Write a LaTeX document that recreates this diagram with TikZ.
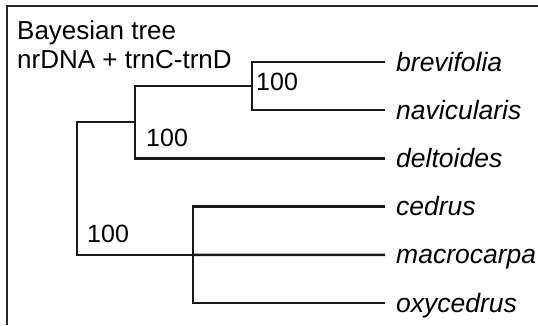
\documentclass[tikz,border=0pt]{standalone}
\usepackage{fontspec}
\setmainfont{Liberation Sans}
\usetikzlibrary{positioning}
\tikzset{taxon/.style={
    % The shape:
    anchor=west,
    inner xsep=11pt,
    inner ysep=0pt,
    % The size:
    text height=18pt,
    text depth=0pt,
    % Font
    font=\fontsize{26.5}{30}\selectfont\itshape
    },
    support/.style={
    anchor=west,
    inner sep=0pt,
    font=\fontsize{25}{29}\selectfont
    },
    heading/.style={
    anchor=base west,
    inner sep=0pt,
    font=\fontsize{26}{30}\selectfont
    },
    branch/.style={
    line width=2.4pt,
    draw=black!90,
    },
    frame/.style={
    line width=2.8pt,
    draw=black!85,
    },
}

\begin{document}
\begin{tikzpicture}[x=1pt,y=-1pt,node distance=48.2pt]
    \useasboundingbox (0,0) rectangle (538,325);
    \draw[frame] (7,325) -- (7,6) -- (538,6);

    \node (head)  [heading] at (17,39) {Bayesian tree};
    \node (head2) [heading] at (17,68) {nrDNA + trnC-trnD};

    \node (brev)  [taxon] at (385,62)          {brevifolia};
    \node (navi)  [below=of brev.west,taxon]   {navicularis};
    \node (delt)  [below=of navi.west,taxon]   {deltoides};
    \node (cedr)  [below=of delt.west,taxon]   {cedrus};
    \node (macr)  [below=of cedr.west,taxon]   {macrocarpa};
    \node (oxyc)  [below=of macr.west,taxon]   {oxycedrus};

    \coordinate (nA)   at (252,86);
    \coordinate (nB)   at (135,122);
    \coordinate (nC)   at (193,254.8);
    \coordinate (root) at (77,190);

    \draw[branch] (brev.west) -| (nA) |- (navi.west);
    \draw[branch] (nA) -| (nB) |- (delt.west);
    \draw[branch] (cedr.west) -| (nC) |- (oxyc.west);
    \draw[branch] (nC) -- (macr.west);
    \draw[branch] (nB) -| (root) |- (nC);

    \node (supA) [support] at (256,82)    {100};
    \node (supB) [support] at (146,137.5) {100};
    \node (supR) [support] at (87,234)    {100};
\end{tikzpicture}
\end{document}
